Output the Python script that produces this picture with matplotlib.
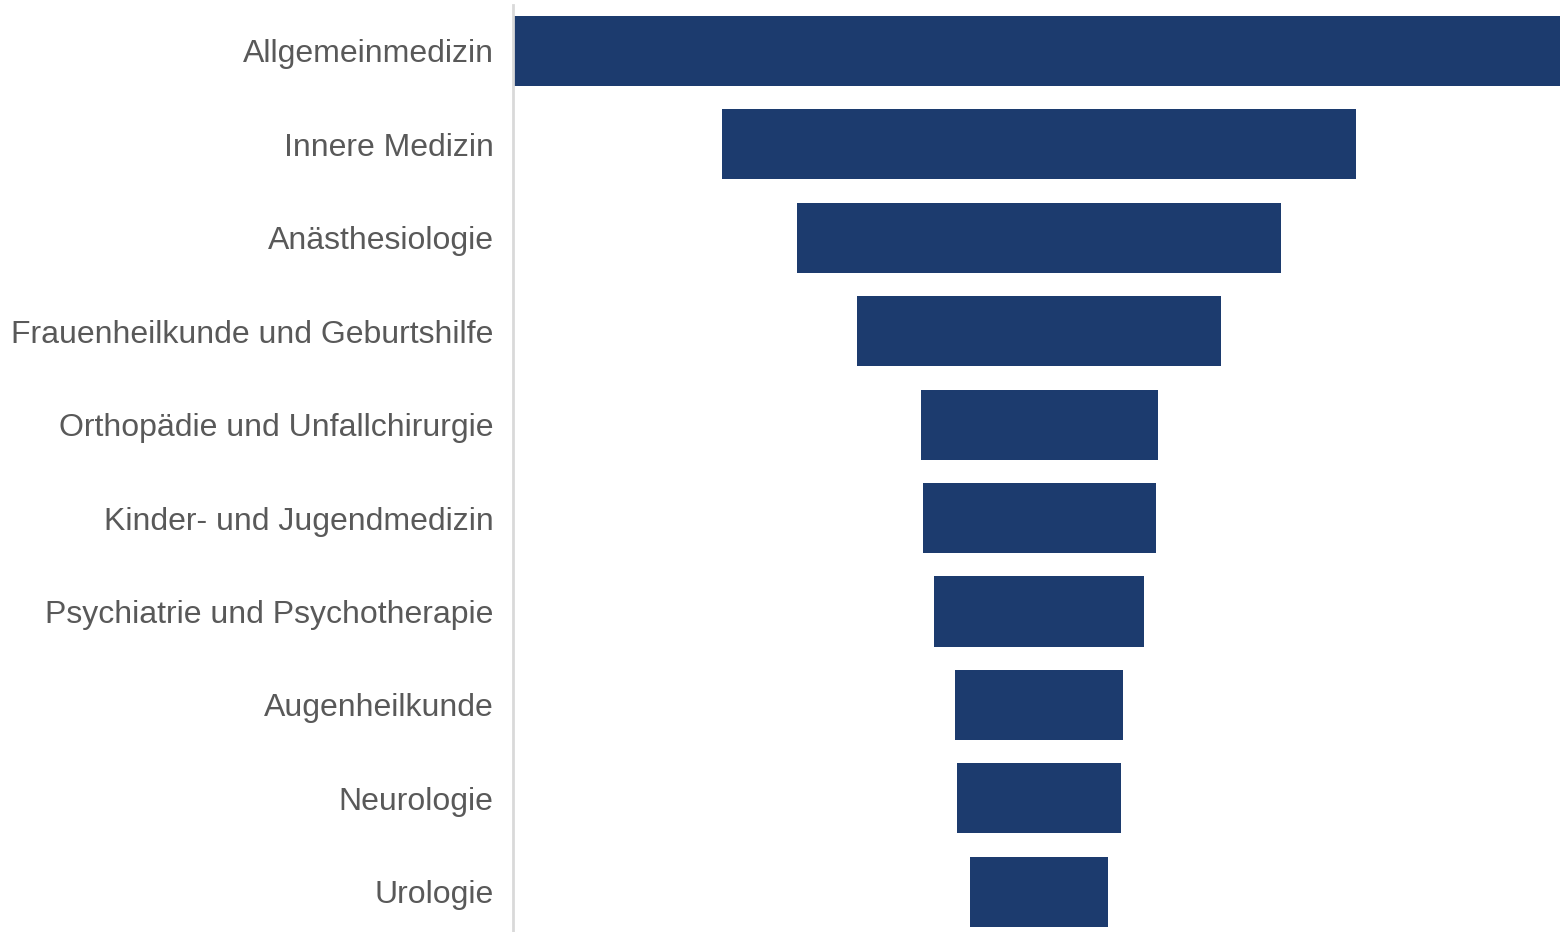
"""Funnel chart of medical specialties."""

import matplotlib

matplotlib.use("Agg")
import matplotlib.pyplot as plt  # noqa: E402

categories = [
    "Allgemeinmedizin",
    "Innere Medizin",
    "Anästhesiologie",
    "Frauenheilkunde und Geburtshilfe",
    "Orthopädie und Unfallchirurgie",
    "Kinder- und Jugendmedizin",
    "Psychiatrie und Psychotherapie",
    "Augenheilkunde",
    "Neurologie",
    "Urologie",
]
values = [1053, 634, 484, 364, 237, 233, 210, 168, 164, 138]

BAR_COLOR = "#1c3b6e"
TEXT_COLOR = "#595959"


def main() -> None:
    plt.rcParams["font.family"] = ["Liberation Sans", "DejaVu Sans"]
    fig = plt.figure(figsize=(15.6, 9.32), dpi=100)
    ax = fig.add_axes([513 / 1560, 0.0, 1 - 513 / 1560, 927 / 932])

    ypos = list(range(len(categories)))
    lefts = [-v / 2 for v in values]
    ax.barh(ypos, values, left=lefts, height=0.75, color=BAR_COLOR)

    half = max(values) / 2
    ax.set_xlim(-half + 0.5, half - 5.5)
    ax.set_ylim(9.43, -0.49)

    ax.set_yticks(ypos)
    ax.set_yticklabels(categories, fontsize=23, color=TEXT_COLOR)
    ax.tick_params(axis="y", length=0, pad=14)
    ax.set_xticks([])
    for side in ("top", "right", "bottom"):
        ax.spines[side].set_visible(False)
    ax.spines["left"].set_color("#d9d9d9")
    ax.spines["left"].set_linewidth(2)

    fig.savefig("out.png", dpi=100)


if __name__ == "__main__":
    main()
